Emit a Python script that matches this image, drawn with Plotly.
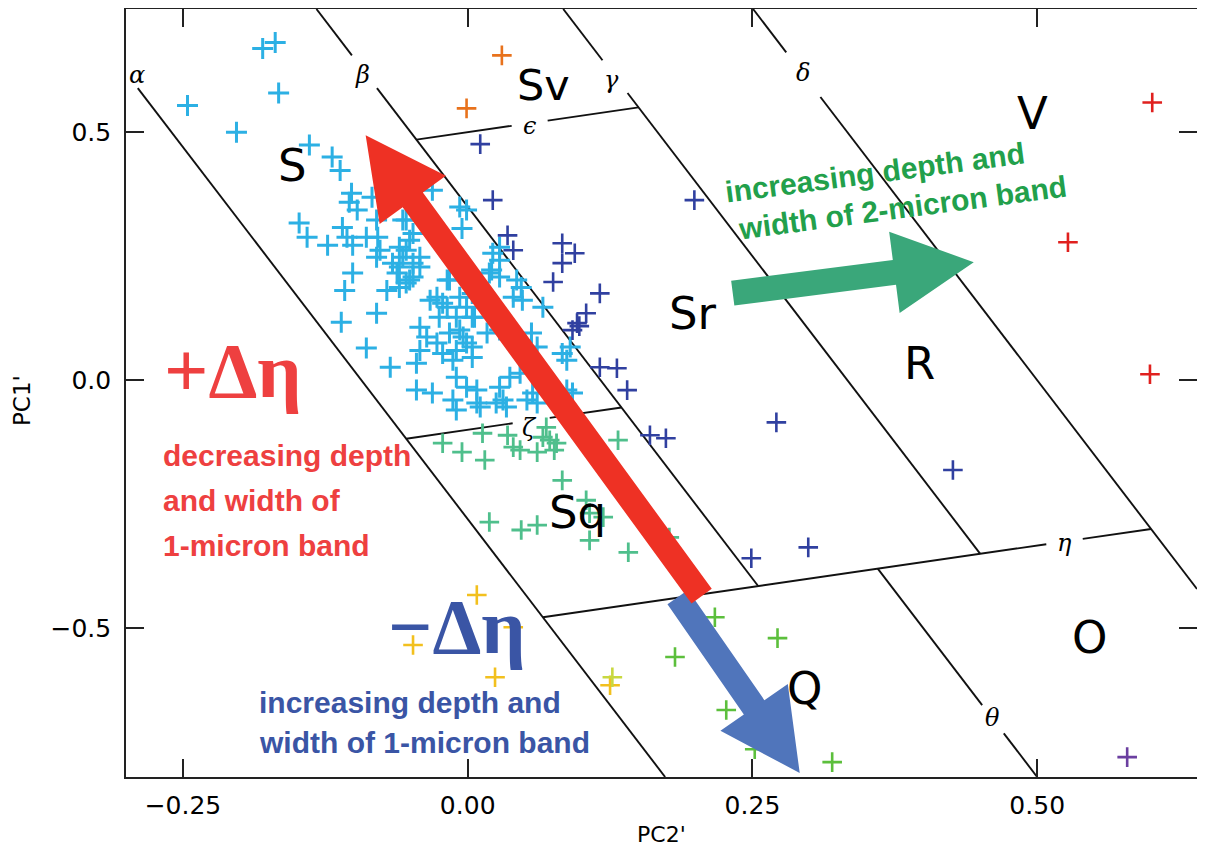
import math
import plotly.graph_objects as go

# ---------------- data ----------------
S_x = [-0.180,-0.169,-0.166,-0.246,-0.203,-0.139,-0.119,-0.112,-0.102,-0.104,
       -0.097,-0.084,-0.148,-0.141,-0.123,-0.110,-0.106,-0.101,-0.089,-0.080,
       -0.079,-0.057,-0.060,-0.054,-0.048,-0.077,-0.080,-0.066,-0.048,-0.042,
       -0.101,-0.062,-0.051,-0.108,-0.071,-0.060,-0.080,-0.111,-0.089,-0.033,
       -0.027,-0.018,-0.018,-0.031,-0.007,-0.005,0.022,0.028,0.019,0.028,
       0.004,-0.010,-0.025,-0.042,-0.036,-0.027,-0.016,-0.007,-0.001,-0.010,
       -0.022,-0.042,-0.068,-0.045,0.004,0.017,0.028,
       -0.001,0.028,0.021,0.043,0.047,0.040,0.048,0.066,-0.016,-0.022,-0.007,0.004,-0.001,0.006,
       -0.004,0.004,-0.013,-0.010,-0.001,0.008,-0.045,-0.031,-0.013,0.008,
       -0.010,0.028,0.037,0.046,0.031,0.052,0.057,0.061,0.056,0.061,
       0.083,0.087,0.090,0.087,0.092,
       -0.054,-0.051,-0.060,-0.048,-0.057,-0.042,-0.054,
       0.011,0.034,0.025]
S_y = [0.669,0.681,0.579,0.554,0.500,0.474,0.450,0.423,0.377,0.359,
       0.343,0.369,0.317,0.288,0.272,0.308,0.288,0.272,0.288,0.323,
       0.288,0.323,0.268,0.262,0.296,0.262,0.248,0.236,0.236,0.228,
       0.216,0.216,0.202,0.181,0.181,0.187,0.135,0.117,0.065,0.161,
       0.167,0.202,0.147,0.383,0.349,0.306,0.256,0.268,0.216,0.208,
       0.127,0.127,0.127,0.107,0.087,0.075,0.095,0.101,0.075,0.060,
       0.054,0.060,0.026,0.034,0.046,0.095,0.101,
       0.343,0.242,0.222,0.202,0.187,0.167,0.161,0.147,0.202,0.155,0.167,0.175,0.147,0.127,
       0.087,0.067,0.040,0.006,-0.014,-0.020,-0.020,-0.026,-0.040,-0.046,
       -0.060,-0.014,0.006,0.014,-0.040,-0.040,-0.026,-0.046,0.095,0.067,
       0.054,0.040,0.067,-0.020,-0.026,
       0.323,0.282,0.228,0.208,0.248,0.248,0.196,
       -0.054,-0.054,-0.046]

Sv_x = [0.030, -0.001]
Sv_y = [0.655, 0.548]

Sr_x = [0.011,0.022,0.199,0.035,0.040,0.083,0.094,0.083,0.075,0.116,0.104,0.096,0.092,0.098,
        0.116,0.131,0.140,0.160,0.174,0.271,0.426,0.299,0.249]
Sr_y = [0.476,0.363,0.363,0.292,0.262,0.276,0.256,0.236,0.198,0.175,0.135,0.115,0.101,0.109,
        0.026,0.024,-0.020,-0.111,-0.117,-0.085,-0.181,-0.337,-0.359]

Sq_x = [-0.022,-0.005,0.015,0.013,0.035,0.040,0.046,0.061,0.069,0.072,0.076,0.066,0.078,0.132,
        0.083,0.104,0.107,0.119,0.019,0.047,0.061,0.107,0.141,0.177]
Sq_y = [-0.127,-0.145,-0.161,-0.107,-0.111,-0.135,-0.141,-0.145,-0.095,-0.121,-0.141,-0.115,-0.127,-0.121,
        -0.202,-0.242,-0.268,-0.276,-0.286,-0.302,-0.292,-0.323,-0.347,-0.317]

Qy_x = [0.008, -0.048, 0.024, 0.125, 0.040]      # yellow
Qy_y = [-0.433, -0.534, -0.599, -0.615, -0.498]
Qyg_x = [0.127]                                   # yellow-green
Qyg_y = [-0.599]
Q_x = [0.217, 0.272, 0.182, 0.227, 0.252, 0.320]  # green
Q_y = [-0.478, -0.520, -0.558, -0.665, -0.744, -0.770]

V_x = [0.601, 0.527, 0.599]
V_y = [0.560, 0.278, 0.012]
O_x = [0.579]
O_y = [-0.760]

# boundary lines:  steep ones  y = -3x + c ; cross ones  y = x/3 + d
STEEP_SLOPE = -3.0
CROSS_SLOPE = 1.0 / 3.0
steep_names = ["α", "β", "γ", "δ", "θ"]
steep_c = [-0.28, 0.35, 1.00, 1.50, 0.70]
cross_names = ["ϵ", "ζ", "η"]
cross_d = [0.50, -0.10, -0.50]

# boundary-label positions (data coords)
greek_text = ["α", "β", "γ", "δ", "ϵ", "ζ", "η", "θ"]
greek_x = [-0.2906, -0.0922, 0.1264, 0.2941, 0.0544, 0.0544, 0.5241, 0.4609]
greek_y = [0.615, 0.615, 0.605, 0.619, 0.512, -0.097, -0.3286, -0.6815]

# class labels
class_text = ["S", "Sv", "V", "Sr", "R", "Sq", "Q", "O"]
class_x = [-0.1536, 0.0667, 0.4960, 0.1975, 0.3968, 0.0966, 0.2959, 0.5461]
class_y = [0.4335, 0.5947, 0.5383, 0.1351, 0.0343, -0.2661, -0.621, -0.518]
class_size = [45, 43, 45, 45, 45, 45, 45, 45]

# arrows: tail -> tip
arrow_tail_x = [0.1844, 0.2054, 0.2327]
arrow_tail_y = [-0.4375, -0.4355, 0.1754]
arrow_tip_x = [0.2915, -0.0896, 0.4443]
arrow_tip_y = [-0.792, 0.494, 0.2379]
arrow_color = ["#5075bb", "#ee3124", "#3aa77a"]

tick_x = [-0.25, 0.0, 0.25, 0.50]
tick_x_text = ["−0.25", "0.00", "0.25", "0.50"]
tick_y = [-0.5, 0.0, 0.5]
tick_y_text = ["−0.5", "0.0", "0.5"]

# ---------------- layout geometry ----------------
# (the page body adds an 8px offset, so the figure is laid out for the visible area)
W, H = 1189, 844
ML, MR, MT, MB = 118, 0, 1, 75
X_RANGE = [-0.300, 0.6403]
Y_RANGE = [-0.800, 0.7484]
SX = (W - ML - MR) / (X_RANGE[1] - X_RANGE[0])
SY = (H - MT - MB) / (Y_RANGE[1] - Y_RANGE[0])

fig = go.Figure()

# ---------------- boundary lines ----------------
def steep_x(c, y):
    return (c - y) / -STEEP_SLOPE

def cross_y(d, x):
    return CROSS_SLOPE * x + d

def meet(c, d):
    x = (c - d) / (CROSS_SLOPE - STEEP_SLOPE)
    return x, cross_y(d, x)

ca, cb, cg, cd, ct = steep_c
de, dz, dh = cross_d
segs = []
segs.append(((steep_x(ca, 0.589), 0.589), (steep_x(ca, Y_RANGE[0]), Y_RANGE[0])))
segs.append(((steep_x(cb, Y_RANGE[1]), Y_RANGE[1]), (steep_x(cb, 0.655), 0.655)))
segs.append(((steep_x(cb, 0.589), 0.589), meet(cb, dh)))
segs.append(((steep_x(cg, Y_RANGE[1]), Y_RANGE[1]), (steep_x(cg, 0.645), 0.645)))
segs.append(((steep_x(cg, 0.579), 0.579), meet(cg, dh)))
segs.append(((steep_x(cd, Y_RANGE[1]), Y_RANGE[1]), (steep_x(cd, 0.661), 0.661)))
segs.append(((steep_x(cd, 0.571), 0.571), (X_RANGE[1], cd + STEEP_SLOPE * X_RANGE[1])))
segs.append((meet(ct, dh), (steep_x(ct, -0.655), -0.655)))
segs.append(((steep_x(ct, -0.712), -0.712), (steep_x(ct, Y_RANGE[0]), Y_RANGE[0])))
segs.append((meet(cb, de), (0.0386, cross_y(de, 0.0386))))
segs.append(((0.0702, cross_y(de, 0.0702)), meet(cg, de)))
segs.append((meet(ca, dz), (0.0395, cross_y(dz, 0.0395))))
segs.append(((0.072, cross_y(dz, 0.072)), meet(cb, dz)))
segs.append((meet(ca, dh), (0.508, cross_y(dh, 0.508))))
segs.append(((0.540, cross_y(dh, 0.540)), meet(cd, dh)))

lx, ly = [], []
for (p0, p1) in segs:
    lx += [p0[0], p1[0], None]
    ly += [p0[1], p1[1], None]
fig.add_trace(go.Scatter(x=lx, y=ly, mode="lines", line=dict(color="#111111", width=1.9),
                         hoverinfo="skip", showlegend=False))

# ---------------- points ----------------
groups = [
    (S_x, S_y, "#2cb0e4", 15, 3.0),
    (Sv_x, Sv_y, "#e8721c", 14, 2.6),
    (Sr_x, Sr_y, "#3040a0", 14, 2.6),
    (Sq_x, Sq_y, "#4fbf8c", 14, 2.8),
    (Qy_x, Qy_y, "#f2c01e", 14, 2.6),
    (Qyg_x, Qyg_y, "#c8d840", 14, 2.6),
    (Q_x, Q_y, "#5cbf3c", 14, 2.6),
    (V_x, V_y, "#e0201e", 14, 2.6),
    (O_x, O_y, "#6b3fa0", 14, 2.6),
]
for gx, gy, col, sz, lw in groups:
    fig.add_trace(go.Scatter(x=gx, y=gy, mode="markers",
                             marker=dict(symbol="cross-thin", size=sz,
                                         line=dict(color=col, width=lw)),
                             hoverinfo="skip", showlegend=False))

# ---------------- arrows ----------------
SHAFT, HEAD_W, HEAD_L = 25, 82, 80

def arrow_path(x0, y0, x1, y1):
    X0, Y0, X1, Y1 = x0 * SX, y0 * SY, x1 * SX, y1 * SY
    L = math.hypot(X1 - X0, Y1 - Y0)
    ux, uy = (X1 - X0) / L, (Y1 - Y0) / L
    nx, ny = -uy, ux
    bx, by = X1 - ux * HEAD_L, Y1 - uy * HEAD_L
    pts = [(X0 + nx * SHAFT / 2, Y0 + ny * SHAFT / 2),
           (bx + nx * SHAFT / 2, by + ny * SHAFT / 2),
           (bx + nx * HEAD_W / 2, by + ny * HEAD_W / 2),
           (X1, Y1),
           (bx - nx * HEAD_W / 2, by - ny * HEAD_W / 2),
           (bx - nx * SHAFT / 2, by - ny * SHAFT / 2),
           (X0 - nx * SHAFT / 2, Y0 - ny * SHAFT / 2)]
    return "M " + " L ".join(f"{px / SX:.5f},{py / SY:.5f}" for px, py in pts) + " Z"

for tx, ty, hx, hy, col in zip(arrow_tail_x, arrow_tail_y, arrow_tip_x, arrow_tip_y, arrow_color):
    fig.add_shape(type="path", xref="x", yref="y", path=arrow_path(tx, ty, hx, hy),
                  fillcolor=col, line=dict(width=0), layer="above")

# ---------------- texts ----------------
ann = []
for t, x, y, s in zip(class_text, class_x, class_y, class_size):
    ann.append(dict(x=x, y=y, text=t, showarrow=False, xanchor="center", yanchor="middle",
                    font=dict(family="DejaVu Sans", size=s, color="#000000")))
for t, x, y in zip(greek_text, greek_x, greek_y):
    ann.append(dict(x=x, y=y, text=t, showarrow=False, xanchor="center", yanchor="middle",
                    font=dict(family="DejaVu Serif", size=24, color="#000000", style="italic")))

BOLD = "Liberation Sans, Arial"
TXT_SIZE = 30
red_lines = ["decreasing depth", "and width of", "1-micron band"]
red_y = [-0.1522, -0.2429, -0.3337]
for t, y in zip(red_lines, red_y):
    ann.append(dict(x=-0.2695, y=y, text=f"<b>{t}</b>", showarrow=False, xanchor="left",
                    yanchor="middle", font=dict(family=BOLD, size=TXT_SIZE, color="#ee4040")))
blue_lines = ["increasing depth and", "width of 1-micron band"]
blue_y = [-0.6502, -0.7308]
for t, y in zip(blue_lines, blue_y):
    ann.append(dict(x=-0.1852, y=y, text=f"<b>{t}</b>", showarrow=False, xanchor="left",
                    yanchor="middle", font=dict(family=BOLD, size=TXT_SIZE, color="#3a55a5")))
green_lines = ["increasing depth and", "width of 2-micron band"]
green_x = [0.3573, 0.3819]
green_y = [0.4194, 0.3488]
for t, x, y in zip(green_lines, green_x, green_y):
    ann.append(dict(x=x, y=y, text=f"<b>{t}</b>", showarrow=False, xanchor="center",
                    yanchor="middle", textangle=-7.5,
                    font=dict(family=BOLD, size=TXT_SIZE, color="#22a04b")))

ann.append(dict(x=-0.2063, y=0.019, text="<b>+Δη</b>", showarrow=False, xanchor="center",
                yanchor="middle", font=dict(family="Liberation Serif", size=78, color="#ee4040")))
ann.append(dict(x=-0.0092, y=-0.4972, text="<b>−Δη</b>", showarrow=False, xanchor="center",
                yanchor="middle", font=dict(family="Liberation Serif", size=78, color="#3a55a5")))

# axis titles
ann.append(dict(xref="paper", yref="paper", x=0.5, y=0, yshift=-57, text="PC2'", showarrow=False,
                xanchor="center", yanchor="middle",
                font=dict(family="DejaVu Sans", size=22, color="#000000")))
ann.append(dict(xref="paper", yref="paper", x=0, y=0.5, xshift=-104, yshift=-8, text="PC1'",
                showarrow=False, xanchor="center", yanchor="middle", textangle=-90,
                font=dict(family="DejaVu Sans", size=23, color="#000000")))

axis_common = dict(showgrid=False, zeroline=False, showline=True, linecolor="#222222", linewidth=1.6,
                   mirror="ticks", ticks="inside", ticklen=18, tickwidth=1.6, tickcolor="#222222",
                   tickfont=dict(family="DejaVu Sans", size=25, color="#000000"))

fig.update_layout(
    width=W, height=H, autosize=False,
    margin=dict(l=ML, r=MR, t=MT, b=MB, autoexpand=False),
    paper_bgcolor="white", plot_bgcolor="white",
    xaxis=dict(range=X_RANGE, tickvals=tick_x, ticktext=tick_x_text, ticklabelstandoff=5, **axis_common),
    yaxis=dict(range=Y_RANGE, tickvals=tick_y, ticktext=tick_y_text, ticklabelstandoff=8, **axis_common),
    annotations=ann,
    showlegend=False,
)

fig.write_html("out.html")
